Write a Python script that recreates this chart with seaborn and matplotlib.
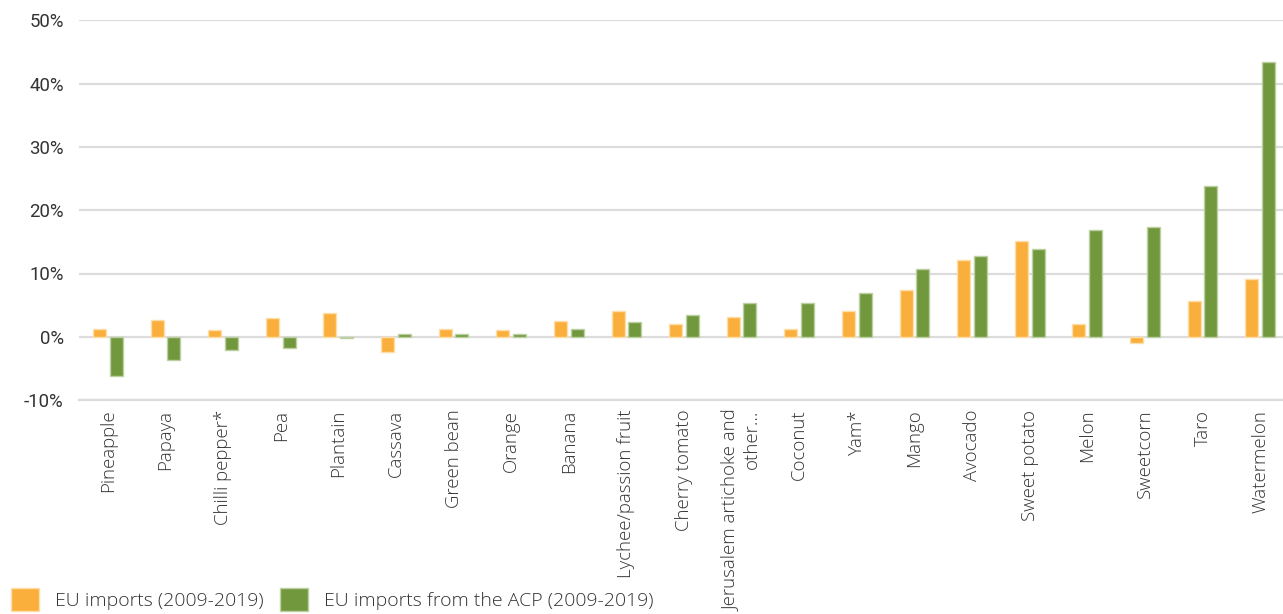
import matplotlib
matplotlib.use("Agg")
import matplotlib.pyplot as plt
from matplotlib.patches import Patch
from matplotlib.ticker import FuncFormatter, FixedLocator
import seaborn as sns
import pandas as pd

# Products, ordered by growth of imports from the ACP
products = [
    "Pineapple", "Papaya", "Chilli pepper*", "Pea", "Plantain", "Cassava",
    "Green bean", "Orange", "Banana", "Lychee/passion fruit", "Cherry tomato",
    "Jerusalem artichoke and\nother...", "Coconut", "Yam*", "Mango", "Avocado",
    "Sweet potato", "Melon", "Sweetcorn", "Taro", "Watermelon",
]

# Average annual growth (%), 2009-2019
eu_imports = [1.2, 2.7, 1.1, 2.9, 3.8, -2.4, 1.2, 1.1, 2.5, 4.1, 2.0,
              3.1, 1.2, 4.1, 7.4, 12.1, 15.1, 2.0, -0.95, 5.6, 9.1]
acp_imports = [-6.2, -3.7, -2.05, -1.8, -0.2, 0.5, 0.4, 0.5, 1.2, 2.3, 3.4,
               5.4, 5.4, 6.9, 10.7, 12.7, 13.9, 16.8, 17.4, 23.8, 43.4]

series_names = ["EU imports (2009-2019)", "EU imports from the ACP (2009-2019)"]
series_colors = ["#FAAF3C", "#72983E"]
edge_colors = ["#FDDDA8", "#BCD1A2"]

df = pd.DataFrame({
    "product": products * 2,
    "growth": eu_imports + acp_imports,
    "series": [series_names[0]] * len(products) + [series_names[1]] * len(products),
})

sns.set_theme(style="white")
plt.rcParams["font.family"] = ["Open Sans", "DejaVu Sans"]

W, H = 1283, 614
fig = plt.figure(figsize=(W / 100, H / 100), dpi=100)
ax = fig.add_axes([79 / W, (H - 400) / H, 1210 / W, (400 - 20.5) / H])

sns.barplot(
    data=df, x="product", y="growth", hue="series",
    palette=series_colors, saturation=1, width=0.58, gap=0.22,
    ax=ax, legend=False, errorbar=None, zorder=3,
)

# pale outline around each bar
for container, ec in zip(ax.containers, edge_colors):
    for bar in container:
        bar.set_edgecolor(ec)
        bar.set_linewidth(1.0)

grid_color = "#DCDCDC"
ax.set_ylim(-10, 50)
ax.set_xlim(-0.5, len(products) - 0.5)
ax.set_yticks(range(-10, 51, 10))
ax.yaxis.set_major_formatter(FuncFormatter(lambda v, _: f"{v:.0f}%"))
ax.yaxis.grid(True, color=grid_color, linewidth=1.6, zorder=0)
ax.xaxis.grid(False)

for side in ["top", "right", "left"]:
    ax.spines[side].set_visible(False)
ax.spines["bottom"].set_color(grid_color)
ax.spines["bottom"].set_linewidth(1.6)

ax.set_xlabel("")
ax.set_ylabel("")

# category separators on the baseline
ax.xaxis.set_minor_locator(FixedLocator([i - 0.5 for i in range(len(products) + 1)]))
ax.tick_params(axis="x", which="minor", direction="in", length=8, width=1.6,
               color=grid_color)
ax.tick_params(axis="x", which="major", length=0, pad=7, labelsize=13.4,
               labelcolor="#333333")
ax.tick_params(axis="y", length=0, pad=11, labelsize=13.4, labelcolor="#333333")

for lbl in ax.get_xticklabels():
    lbl.set_rotation(90)
    lbl.set_ha("center")
    lbl.set_va("top")
    lbl.set_multialignment("right")
    lbl.set_fontweight("light")

for lbl in ax.get_yticklabels():
    lbl.set_family(["Roboto", "DejaVu Sans"])

handles = [Patch(facecolor=c, edgecolor=ec, linewidth=1.0)
           for c, ec in zip(series_colors, edge_colors)]
fig.legend(
    handles, series_names, loc="upper left", bbox_to_anchor=(11 / W, 26 / H),
    ncol=2, frameon=False, handlelength=1.45, handleheight=1.45,
    handletextpad=0.8, columnspacing=0.85, borderaxespad=0, borderpad=0,
    labelcolor="#333333", prop={"family": ["Open Sans", "DejaVu Sans"],
                                "weight": "light", "size": 14.0},
)

fig.savefig("out.png", dpi=100)
